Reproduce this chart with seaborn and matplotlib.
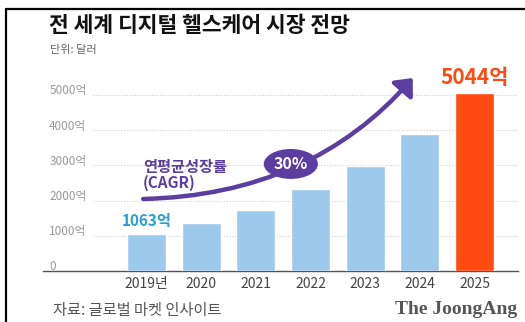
import matplotlib
matplotlib.use("Agg")
import matplotlib.pyplot as plt
import seaborn as sns
import pandas as pd
from matplotlib.patches import Ellipse, FancyArrowPatch
from matplotlib.path import Path
from matplotlib.lines import Line2D
import matplotlib.transforms as mtransforms

# ---- data ----
years = ["2019년", "2020", "2021", "2022", "2023", "2024", "2025"]
values = [1063, 1350, 1740, 2330, 2970, 3880, 5044]
bar_colors = ["#9dc9ec"] * 6 + ["#ff4b12"]
yticks = [0, 1000, 2000, 3000, 4000, 5000]
ytick_labels = ["0", "1000억", "2000억", "3000억", "4000억", "5000억"]
first_label = "1063억"
last_label = "5044억"
title = "전 세계 디지털 헬스케어 시장 전망"
unit = "단위: 달러"
source = "자료: 글로벌 마켓 인사이트"
brand = "The JoongAng"
cagr_text = "연평균성장률\n(CAGR)"
cagr_value = "30%"

sns.set_style("white")
plt.rcParams["font.family"] = ["Noto Sans CJK KR", "DejaVu Sans"]

W, H = 525, 322
fig = plt.figure(figsize=(W / 100, H / 100), dpi=100)
fig.patch.set_facecolor("white")

# axes placement (pixels -> fraction)
ax_left, ax_right = 43, 518
ax_bottom_px, ax_top_px = 271, 66.8
ax = fig.add_axes([ax_left / W, 1 - ax_bottom_px / H,
                   (ax_right - ax_left) / W, (ax_bottom_px - ax_top_px) / H])

df = pd.DataFrame({"year": years, "value": values})
sns.barplot(data=df, x="year", y="value", hue="year", palette=bar_colors,
            legend=False, width=0.71, ax=ax, saturation=1, zorder=3)

ax.set_xlim(-1.893, 6.795)
ax.set_ylim(0, 5800)
for s in ["top", "right", "left"]:
    ax.spines[s].set_visible(False)
ax.spines["bottom"].set_color("#555555")
ax.spines["bottom"].set_linewidth(1.0)
ax.set_xlabel("")
ax.set_ylabel("")
ax.set_yticks([])
ax.tick_params(axis="x", length=0, pad=4, labelsize=10, colors="#444444")
ax.set_xticks(range(len(years)))
ax.set_xticklabels(years)

# gridlines + y labels
blend = mtransforms.blended_transform_factory(ax.transAxes, ax.transData)
lab_off = mtransforms.offset_copy(blend, fig=fig, x=0, y=4, units="dots")
for v, lab in zip(yticks, ytick_labels):
    if v > 0:
        ax.axhline(v, xmin=0.105, xmax=1.0, color="#d0d0d0", lw=0.8,
                   ls=(0, (1, 1.5)), zorder=1)
    ax.text(0.013, v, lab, transform=lab_off, ha="left", va="center",
            fontsize=8.5, color="#9a9a9a")

# value labels
ax.text(0, values[0] + 120, first_label, ha="center", va="bottom",
        fontsize=11, fontweight="bold", color="#2a9fd6", zorder=5)
ax.text(6, values[-1] + 140, last_label, ha="center", va="bottom",
        fontsize=15, fontweight="bold", color="#ff4b12", zorder=5)

# growth arrow (quadratic bezier in data coords)
purple = "#5b3ea0"
p0 = (-0.06, 2045)
c1 = (3.0, 2160)
p2 = (4.87, 5480)
path = Path([p0, c1, p2], [Path.MOVETO, Path.CURVE3, Path.CURVE3])
arrow = FancyArrowPatch(path=path, arrowstyle="-|>,head_length=0.45,head_width=0.4",
                        mutation_scale=20, color=purple, lw=3.2,
                        transform=ax.transData, clip_on=False, zorder=6)
ax.add_patch(arrow)

ell = Ellipse((2.64, 3040), width=0.99, height=850, facecolor=purple,
              edgecolor="none", zorder=7, clip_on=False)
ax.add_patch(ell)
ax.text(2.64, 3040, cagr_value, ha="center", va="center", color="white",
        fontsize=11.5, fontweight="bold", zorder=8)

fig.text(143 / W, 1 - 175 / H, cagr_text, ha="left", va="center",
         fontsize=11, fontweight="bold", color=purple, linespacing=0.95)

# header / footer
fig.text(49 / W, 1 - 25 / H, title, ha="left", va="center", fontsize=15.5,
         fontweight="black", color="#111111")
fig.text(50 / W, 1 - 50 / H, unit, ha="left", va="center", fontsize=8,
         color="#666666")
fig.text(53 / W, 1 - 310 / H, source, ha="left", va="center", fontsize=11,
         color="#555555", fontweight="medium")
fig.text(517 / W, 1 - 310 / H, brand, ha="right", va="center", fontsize=14,
         fontweight="bold", color="#555555", family="Liberation Serif")

# frame lines (left and top)
fig.add_artist(Line2D([6 / W, 6 / W], [0, 1 - 8.5 / H], transform=fig.transFigure,
                      color="black", lw=1.6))
fig.add_artist(Line2D([6 / W, 1], [1 - 8.5 / H, 1 - 8.5 / H], transform=fig.transFigure,
                      color="black", lw=1.6))

fig.savefig("out.png", dpi=100)
